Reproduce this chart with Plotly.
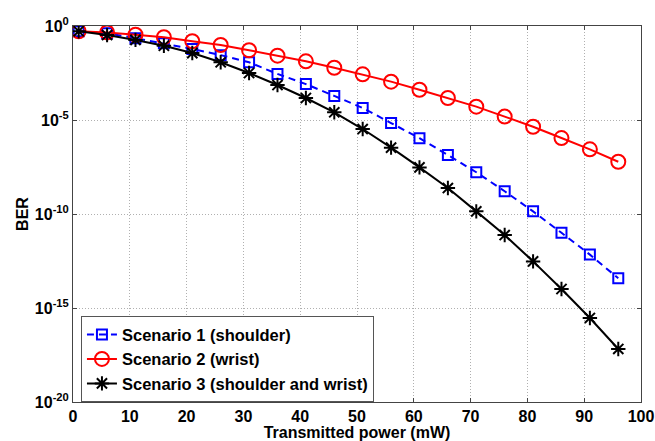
import plotly.graph_objects as go

power_mw = [1, 6, 11, 16, 21, 26, 31, 36, 41, 46, 51, 56, 61, 66, 71, 76, 81, 86, 91, 96]

log_ber_s1 = [-0.28, -0.38, -0.65, -0.92, -1.22, -1.55, -1.93, -2.55, -3.09, -3.72,
              -4.36, -5.16, -5.97, -6.86, -7.78, -8.79, -9.86, -11.0, -12.16, -13.42]
log_ber_s2 = [-0.28, -0.34, -0.46, -0.60, -0.81, -1.01, -1.29, -1.58, -1.88, -2.22,
              -2.57, -2.96, -3.39, -3.83, -4.29, -4.82, -5.36, -5.96, -6.56, -7.22]
log_ber_s3 = [-0.28, -0.48, -0.74, -1.05, -1.44, -1.93, -2.50, -3.14, -3.83, -4.59,
              -5.48, -6.47, -7.52, -8.62, -9.86, -11.12, -12.52, -13.99, -15.53, -17.18]

ber_s1 = [10 ** v for v in log_ber_s1]
ber_s2 = [10 ** v for v in log_ber_s2]
ber_s3 = [10 ** v for v in log_ber_s3]

y_tick_exps = [0, -5, -10, -15, -20]
y_tick_vals = [10 ** e for e in y_tick_exps]
y_tick_text = ["10<sup>%d</sup>" % e for e in y_tick_exps]

font = "Liberation Sans, Arial, sans-serif"

fig = go.Figure()
fig.add_trace(go.Scatter(
    x=power_mw, y=ber_s1, mode="lines+markers", name="Scenario 1 (shoulder)",
    line=dict(color="#0000ff", width=2, dash="7px,5px"),
    marker=dict(symbol="square-open", size=10, color="#0000ff", line=dict(width=2, color="#0000ff")),
))
fig.add_trace(go.Scatter(
    x=power_mw, y=ber_s2, mode="lines+markers", name="Scenario 2 (wrist)",
    line=dict(color="#ff0000", width=2),
    marker=dict(symbol="circle-open", size=14, color="#ff0000", line=dict(width=2, color="#ff0000")),
))
fig.add_trace(go.Scatter(
    x=power_mw, y=ber_s3, mode="lines+markers", name="Scenario 3 (shoulder and wrist)",
    line=dict(color="#000000", width=2),
    marker=dict(symbol="asterisk-open", size=12, color="#000000", line=dict(width=2, color="#000000")),
))

fig.update_layout(
    width=655, height=441,
    margin=dict(l=73, r=14, t=26, b=39),
    paper_bgcolor="white", plot_bgcolor="white",
    font=dict(family=font, size=16, color="black"),
    legend=dict(
        x=0.014, y=0.228, xanchor="left", yanchor="top",
        bgcolor="white", bordercolor="#555555", borderwidth=1,
        font=dict(family=font, size=16.5, color="black", weight="bold"),
        tracegroupgap=0, itemwidth=30,
    ),
    showlegend=True,
)
fig.update_xaxes(
    range=[0, 100], dtick=10, tick0=0, automargin=False,
    showline=True, linecolor="#444444", linewidth=1, mirror="ticks",
    ticks="inside", ticklen=4, tickcolor="#444444",
    showgrid=True, gridcolor="#b0b0b0", griddash="1px,2px", gridwidth=1,
    zeroline=False,
    tickfont=dict(family=font, size=16, color="black", weight="bold"),
    title=dict(text="Transmitted power (mW)", standoff=0,
               font=dict(family=font, size=16, color="black", weight="bold")),
)
fig.update_yaxes(
    type="log", range=[-20, 0], automargin=False,
    tickvals=y_tick_vals, ticktext=y_tick_text,
    showline=True, linecolor="#444444", linewidth=1, mirror="ticks",
    ticks="inside", ticklen=4, tickcolor="#444444",
    showgrid=True, gridcolor="#b0b0b0", griddash="1px,2px", gridwidth=1,
    zeroline=False,
    tickfont=dict(family=font, size=16, color="black", weight="bold"),
    title=dict(text="BER", standoff=2,
               font=dict(family=font, size=16, color="black", weight="bold")),
)

fig.write_html("out.html", config={"displayModeBar": False},
               post_script="document.body.style.margin='0';")
